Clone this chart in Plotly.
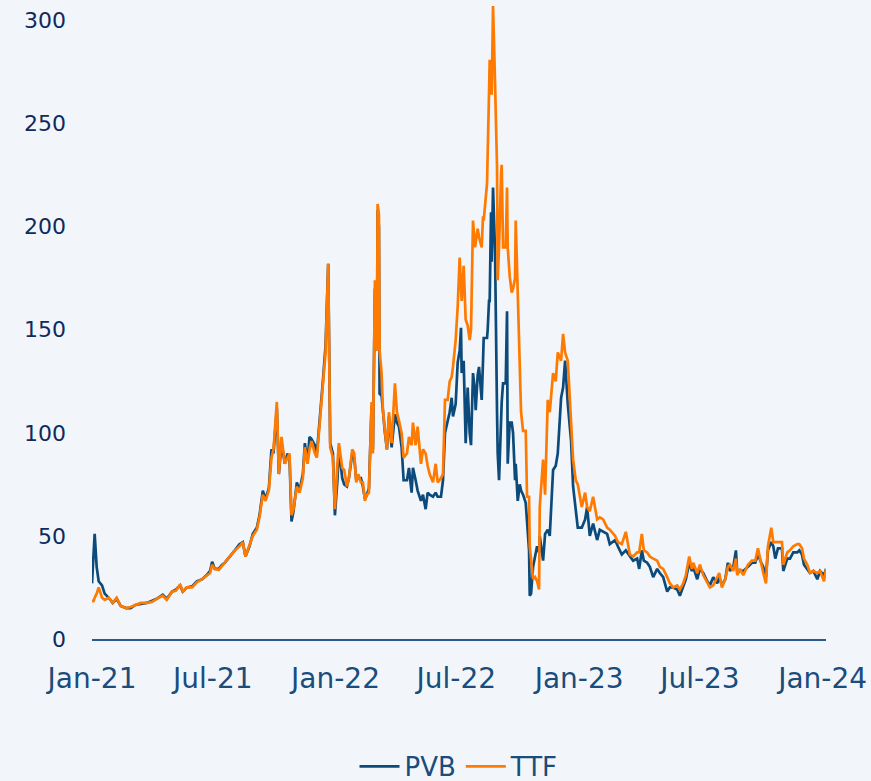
import plotly.graph_objects as go

dates = [
    "2021-01-01","2021-01-03","2021-01-05","2021-01-08","2021-01-11","2021-01-16","2021-01-20","2021-01-26",
    "2021-02-01","2021-02-07","2021-02-13","2021-02-21","2021-02-28","2021-03-07","2021-03-15","2021-03-24",
    "2021-04-01","2021-04-08","2021-04-17","2021-04-23","2021-05-01","2021-05-07","2021-05-13","2021-05-17",
    "2021-05-23","2021-05-31","2021-06-07","2021-06-15","2021-06-22","2021-06-27","2021-06-30","2021-07-04",
    "2021-07-10","2021-07-15","2021-07-19","2021-07-27","2021-08-03","2021-08-10","2021-08-15","2021-08-19",
    "2021-08-25","2021-08-30","2021-09-05","2021-09-09","2021-09-14","2021-09-18","2021-09-23","2021-09-27",
    "2021-09-30","2021-10-05","2021-10-08","2021-10-12","2021-10-17","2021-10-21","2021-10-24","2021-10-27",
    "2021-10-30","2021-11-04","2021-11-08","2021-11-13","2021-11-16","2021-11-20","2021-11-23","2021-11-26",
    "2021-12-01","2021-12-04","2021-12-08","2021-12-13","2021-12-16","2021-12-17","2021-12-21","2021-12-24",
    "2021-12-28","2021-12-31","2022-01-04","2022-01-06","2022-01-11","2022-01-14","2022-01-18","2022-01-21",
    "2022-01-26","2022-01-29","2022-02-01","2022-02-04","2022-02-08","2022-02-11","2022-02-14","2022-02-17",
    "2022-02-20","2022-02-23","2022-02-24","2022-02-26","2022-03-01","2022-03-04","2022-03-05","2022-03-07",
    "2022-03-08","2022-03-11","2022-03-13","2022-03-16","2022-03-19","2022-03-22","2022-03-26","2022-03-31",
    "2022-04-03","2022-04-06","2022-04-10","2022-04-13","2022-04-18","2022-04-21","2022-04-25","2022-04-27",
    "2022-05-01","2022-05-04","2022-05-09","2022-05-12","2022-05-16","2022-05-19","2022-05-22","2022-05-27",
    "2022-05-31","2022-06-03","2022-06-08","2022-06-11","2022-06-14","2022-06-18","2022-06-21","2022-06-24",
    "2022-06-26","2022-06-30","2022-07-03","2022-07-06","2022-07-08","2022-07-09","2022-07-12","2022-07-15",
    "2022-07-18","2022-07-21","2022-07-23","2022-07-26","2022-07-29","2022-07-30","2022-08-02","2022-08-04",
    "2022-08-07","2022-08-08","2022-08-10","2022-08-11","2022-08-16","2022-08-17","2022-08-19","2022-08-20",
    "2022-08-22","2022-08-23","2022-08-25","2022-08-28","2022-08-31","2022-09-01","2022-09-03","2022-09-06",
    "2022-09-07","2022-09-09","2022-09-13","2022-09-15","2022-09-16","2022-09-19","2022-09-22","2022-09-24",
    "2022-09-27","2022-09-28","2022-10-01","2022-10-03","2022-10-04","2022-10-06","2022-10-09","2022-10-13",
    "2022-10-15","2022-10-18","2022-10-19","2022-10-21","2022-10-24","2022-10-27","2022-10-30","2022-11-02",
    "2022-11-03","2022-11-08","2022-11-11","2022-11-15","2022-11-18","2022-11-23","2022-11-27","2022-11-30",
    "2022-12-05","2022-12-08","2022-12-11","2022-12-15","2022-12-20","2022-12-23","2022-12-27","2022-12-30",
    "2023-01-05","2023-01-10","2023-01-13","2023-01-17","2023-01-22","2023-01-28","2023-02-01","2023-02-06",
    "2023-02-12","2023-02-16","2023-02-24","2023-02-28","2023-03-06","2023-03-12","2023-03-18","2023-03-23",
    "2023-03-29","2023-04-01","2023-04-05","2023-04-08","2023-04-13","2023-04-17","2023-04-22","2023-04-28",
    "2023-05-02","2023-05-07","2023-05-13","2023-05-17","2023-05-22","2023-05-28","2023-06-01","2023-06-06",
    "2023-06-10","2023-06-15","2023-06-19","2023-06-21","2023-06-27","2023-07-01","2023-07-06","2023-07-12",
    "2023-07-16","2023-07-21","2023-07-27","2023-07-30","2023-08-03","2023-08-08","2023-08-12","2023-08-15",
    "2023-08-20","2023-08-24","2023-08-26","2023-08-30","2023-09-04","2023-09-11","2023-09-17","2023-09-22",
    "2023-09-26","2023-10-01","2023-10-04","2023-10-08","2023-10-11","2023-10-16","2023-10-19","2023-10-22",
    "2023-10-26","2023-11-01","2023-11-03","2023-11-09","2023-11-13","2023-11-18","2023-11-24","2023-11-27",
    "2023-12-01","2023-12-04","2023-12-09","2023-12-13","2023-12-18","2023-12-24","2023-12-28","2024-01-03",
    "2024-01-06",
]

pvb = [
    27, 40, 51, 35, 28, 26, 22, 20,
    17.5, 19.5, 16, 15, 15, 16.5, 17, 17.5,
    18.5, 19.5, 21.5, 19.5, 23, 24, 26, 23,
    25, 25.5, 28, 29, 31, 33, 37.5, 34,
    34, 36, 37, 40, 43, 46, 47, 40,
    45, 51, 54, 60, 72, 68, 73, 92,
    90, 112, 80, 95, 85, 90, 88, 57,
    62, 76, 72, 80, 95, 86, 98, 97,
    94, 90, 104, 125, 138, 142, 182, 95,
    90, 60, 78, 93, 78, 75, 74, 78,
    90, 88, 77, 78, 78, 74, 68, 70,
    73, 100, 113, 92, 170, 140, 208, 200,
    119, 118, 110, 100, 92, 108, 93, 109,
    105, 103, 93, 77, 77, 83, 71, 83,
    77, 72, 67, 70, 63, 71, 70, 69,
    71, 69, 69, 77, 100, 105, 110, 117,
    108, 114, 134, 140, 151, 129, 135, 95,
    122, 100, 94, 129, 120, 111, 128, 132,
    120, 116, 135, 146, 146, 150, 164, 164,
    207, 183, 219, 188, 110, 90, 77, 108,
    115, 124, 124, 159, 85, 105, 105, 100,
    77, 85, 67, 72, 75, 72, 70, 66,
    55, 43, 21, 22, 35, 40, 45, 42,
    50, 38, 51, 53, 50, 82, 84, 90,
    117, 122, 135, 114, 96, 74, 64, 54,
    54, 58, 64, 50, 56, 48, 53, 52,
    51, 46, 48, 45, 41, 43, 40, 38,
    39, 34, 43, 38, 37, 35, 30, 34,
    32, 30, 23, 25, 25, 24, 21, 26,
    29, 37, 33, 35, 29, 34, 32, 28,
    26, 30, 27, 30, 26, 29, 37, 33,
    35, 43, 32, 33, 33, 35, 37, 37,
    41, 37, 35, 30, 43, 47, 45, 39,
    44, 44, 33, 39, 39, 42, 42, 43,
    41, 36, 34, 32, 33, 29, 33, 31,
    34,
]

ttf = [
    19, 18, 20, 22, 25, 20, 19, 20,
    17.5, 20, 16, 15, 15.5, 16.5, 17.5, 17.5,
    18, 19.5, 21, 19, 23, 23.5, 26.5, 23,
    25, 25, 27.5, 29, 31, 32, 36, 34,
    33.5, 35.5, 37, 40, 43, 45, 47, 40,
    45, 50, 53, 59, 70, 67, 72, 88,
    92, 115, 80, 98, 85, 88, 90, 60,
    63, 74, 71, 78, 93, 85, 92, 96,
    90, 88, 103, 122, 135, 139, 182, 93,
    88, 63, 86, 95, 83, 82, 74, 78,
    92, 90, 76, 80, 76, 76, 67, 70,
    71, 98, 115, 90, 174, 140, 211, 206,
    140, 129, 111, 101, 92, 110, 95, 124,
    110, 106, 100, 88, 90, 98, 94, 105,
    94, 103, 85, 92, 90, 84, 80, 76,
    85, 76, 78, 80, 116, 116, 125, 127,
    132, 145, 161, 185, 172, 164, 181, 155,
    152, 145, 150, 203, 190, 192, 199, 195,
    190, 190, 205, 203, 221, 242, 265, 281,
    275, 264, 307, 270, 229, 174, 190, 225,
    230, 190, 190, 219, 190, 176, 168, 170,
    175, 203, 168, 150, 129, 110, 101, 101,
    69, 69, 45, 37, 29, 30, 28, 24,
    64, 87, 70, 116, 110, 129, 125, 139,
    135, 148, 139, 135, 108, 87, 77, 75,
    64, 71, 64, 62, 69, 58, 59, 58,
    54, 53, 50, 47, 46, 52, 41, 40,
    42, 42, 51, 43, 42, 40, 39, 38,
    35, 34, 30, 27, 25, 26, 24, 27,
    31, 40, 34, 37, 32, 36, 31, 27,
    25, 26, 30, 32, 25, 29, 35, 36,
    33, 39, 31, 34, 31, 36, 38, 38,
    44, 36, 32, 27, 45, 54, 47, 47,
    47, 47, 36, 42, 43, 45, 46, 46,
    44, 39, 36, 32, 33, 32, 33, 28,
    34,
]

y_ticks = [0, 50, 100, 150, 200, 250, 300]

BG = "#f2f6fa"
FONT = "DejaVu Sans"

fig = go.Figure()
fig.add_trace(go.Scatter(x=dates, y=pvb, mode="lines", name="PVB",
                         line=dict(color="#0b4a7a", width=2.7)))
fig.add_trace(go.Scatter(x=dates, y=ttf, mode="lines", name="TTF",
                         line=dict(color="#ff7a00", width=2.7)))

fig.update_layout(
    width=871, height=781,
    margin=dict(l=92, r=45, t=2, b=142, autoexpand=False),
    paper_bgcolor=BG, plot_bgcolor=BG,
    font=dict(family=FONT, color="#1a4c7c"),
    showlegend=True,
    legend=dict(orientation="h", x=0.5, xanchor="center", y=-0.2, yanchor="middle",
                font=dict(size=26, color="#1a4c7c", family=FONT),
                bgcolor="rgba(0,0,0,0)", itemwidth=40, tracegroupgap=0),
    xaxis=dict(
        range=["2021-01-01", "2024-01-06"],
        tickformat="%b-%y", dtick="M6", tick0="2021-01-01",
        showgrid=False, zeroline=False, automargin=False,
        showline=True, linecolor="#2a5a8a", linewidth=2,
        ticks="", ticklabelstandoff=13,
        tickfont=dict(size=28, color="#1a4c7c", family=FONT),
    ),
    yaxis=dict(
        range=[0, 309], tickvals=y_ticks, automargin=False,
        showgrid=False, zeroline=False, showline=False,
        ticks="", ticklabelstandoff=25,
        tickfont=dict(size=22, color="#102a5c", family=FONT),
    ),
)

fig.write_html(
    "out.html",
    config={"displayModeBar": False},
    post_script="document.body.style.margin='0';document.body.style.overflow='hidden';"
                "document.body.style.background='" + BG + "';",
)
